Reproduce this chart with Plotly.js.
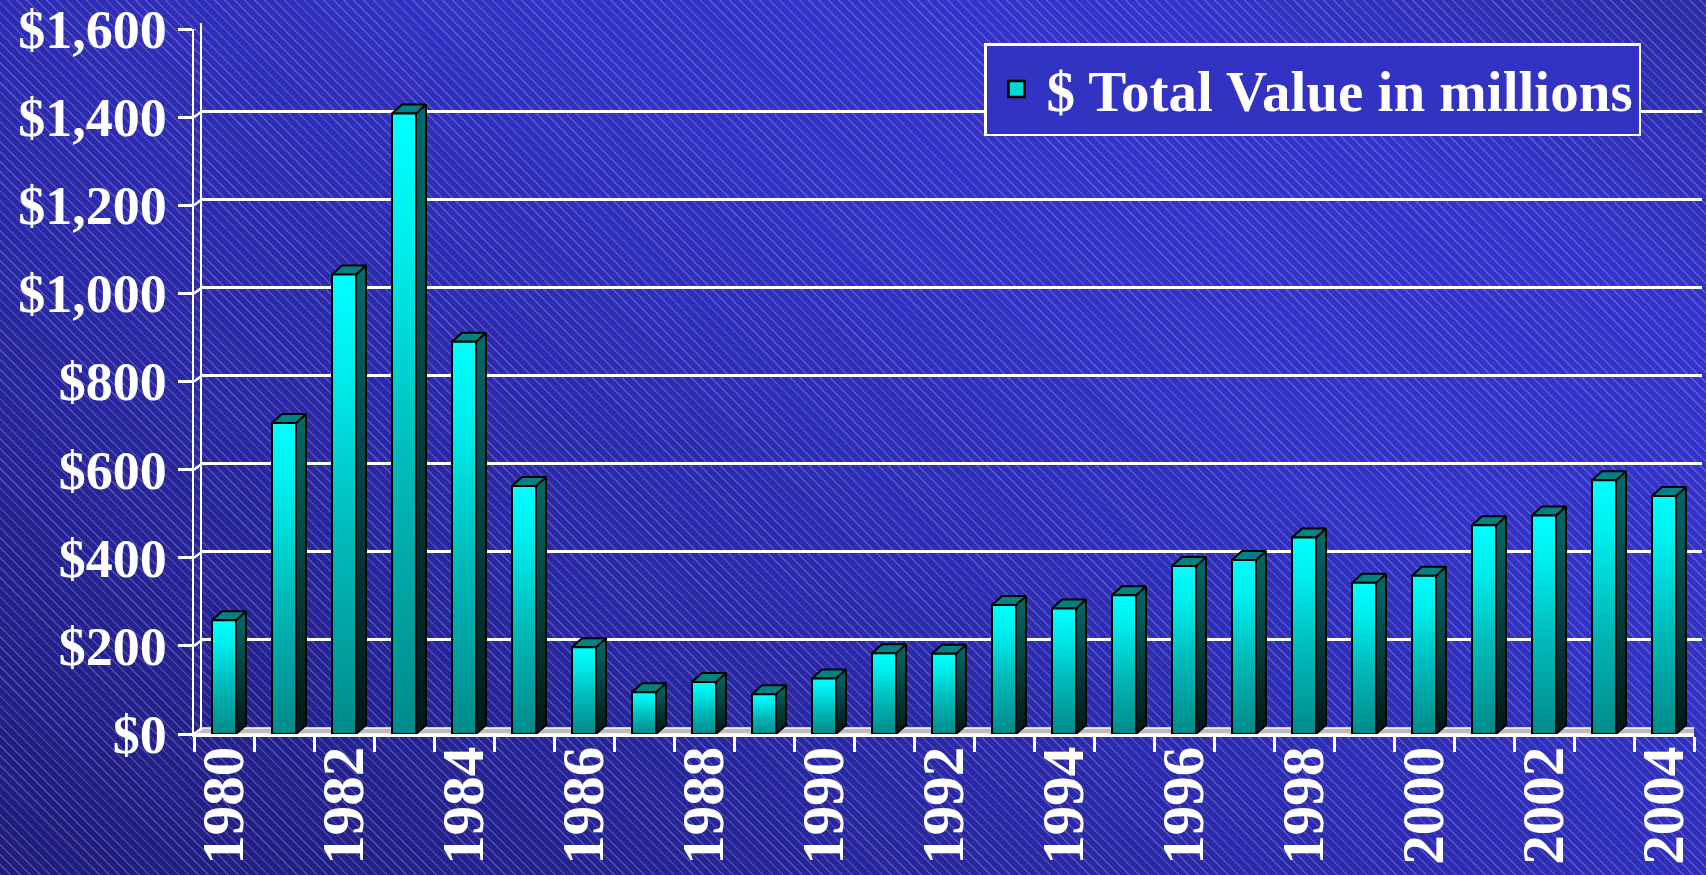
<!DOCTYPE html>
<html>
<head>
<meta charset="utf-8">
<script src="https://cdn.plot.ly/plotly-3.0.1.min.js"></script>
<style>
html,body{margin:0;padding:0;width:1706px;height:875px;overflow:hidden;}
body{
  background:
    repeating-linear-gradient(45deg, rgba(255,255,255,0.2) 0px, rgba(255,255,255,0.2) 1px, rgba(255,255,255,0) 1.6px, rgba(255,255,255,0) 7px),
    linear-gradient(30deg, #1f1c7a 0%, #2a28a6 35%, #3232c4 62%, #3434cc 82%, #2c2ca6 100%);
}
#chart{width:1706px;height:875px;}
</style>
</head>
<body>
<div id="chart"></div>
<script>
// ---- data ----
const years = [1980,1981,1982,1983,1984,1985,1986,1987,1988,1989,1990,1991,1992,
               1993,1994,1995,1996,1997,1998,1999,2000,2001,2002,2003,2004];
const totalValue = [258,706,1043,1408,890,563,197,95,118,90,126,183,182,
                    293,285,315,381,395,446,343,359,474,496,576,540];
const yTickVals = [0,200,400,600,800,1000,1200,1400,1600];
const yTickText = yTickVals.map(v => '$' + v.toLocaleString('en-US'));
const xLabelYears = [1980,1982,1984,1986,1988,1990,1992,1994,1996,1998,2000,2002,2004];
const seriesName = '$ Total Value in millions';

// ---- geometry (styling) ----
const W = 1706, H = 875;
const front = {x0:194, x1:1694, yBottom:734, yTop:29};
const wallDx = 8, wallDy = 6;           // back wall offset in px
const barDx = 10, barDy = 9;            // bar depth in px
const yMax = 1600;
const xMin = years[0]-0.5, xMax = years[years.length-1]+0.5;
const pxPerUnitY = (front.yBottom-front.yTop)/yMax;
const pxPerUnitX = (front.x1-front.x0)/(xMax-xMin);
const fdx = wallDx/pxPerUnitX, fdy = wallDy/pxPerUnitY;
const bdx = barDx/pxPerUnitX, bdy = barDy/pxPerUnitY;
const hw = 0.2;

const font = 'Liberation Serif, Times New Roman, serif';
const frontScale = [[0,'#008a8a'],[0.45,'#00bcbc'],[0.8,'#00eeee'],[1,'#00ffff']];
const sideScale = [[0,'#001818'],[1,'#006a6a']];

const traces = [];
// dummy trace so the back-wall subplot exists
traces.push({type:'scatter', mode:'lines', xaxis:'x', yaxis:'y', x:[null], y:[null],
  showlegend:false, hoverinfo:'skip'});
// floor
traces.push({type:'scatter', mode:'lines', xaxis:'x2', yaxis:'y2',
  x:[xMin, xMax, xMax+fdx, xMin+fdx, xMin], y:[0,0,fdy,fdy,0],
  fill:'toself', fillcolor:'#bdbdbd', line:{color:'#ffffff', width:1.5},
  showlegend:false, hoverinfo:'skip'});
// left wall connectors
const cx = [], cy = [];
yTickVals.forEach(v => { cx.push(xMin, xMin+fdx, null); cy.push(v, v+fdy, null); });
traces.push({type:'scatter', mode:'lines', xaxis:'x2', yaxis:'y2', x:cx, y:cy,
  line:{color:'#ffffff', width:2.5}, showlegend:false, hoverinfo:'skip'});

// bars
years.forEach((c,i) => {
  const v = totalValue[i];
  traces.push({type:'scatter', mode:'lines', xaxis:'x2', yaxis:'y2',
    x:[c+hw, c+hw+bdx, c+hw+bdx, c+hw, c+hw], y:[0, bdy, v+bdy, v, 0],
    fill:'toself', fillgradient:{type:'vertical', start:0, stop:v+bdy, colorscale:sideScale},
    line:{color:'#000000', width:2}, showlegend:false, hoverinfo:'skip'});
  traces.push({type:'scatter', mode:'lines', xaxis:'x2', yaxis:'y2',
    x:[c-hw, c+hw, c+hw+bdx, c-hw+bdx, c-hw], y:[v, v, v+bdy, v+bdy, v],
    fill:'toself', fillcolor:'#008282',
    line:{color:'#000000', width:2}, showlegend:false, hoverinfo:'skip'});
  traces.push({type:'scatter', mode:'lines', xaxis:'x2', yaxis:'y2',
    x:[c-hw, c+hw, c+hw, c-hw, c-hw], y:[0, 0, v, v, 0],
    fill:'toself', fillgradient:{type:'vertical', start:0, stop:v, colorscale:frontScale},
    line:{color:'#000000', width:2}, name:seriesName, showlegend:false, hoverinfo:'skip'});
});

// legend entry
traces.push({type:'scatter', mode:'markers', xaxis:'x3', yaxis:'y2',
  x:[null], y:[null], name:seriesName,
  marker:{symbol:'square', size:16, color:'#00d8d8', line:{color:'#000000', width:2.5}},
  showlegend:true, hoverinfo:'skip'});

const dom = (a,b) => [a/W, b/W];
const domY = (bottomPx, topPx) => [1-bottomPx/H, 1-topPx/H];

const layout = {
  width:W, height:H,
  margin:{l:0, r:0, t:0, b:0},
  paper_bgcolor:'rgba(0,0,0,0)', plot_bgcolor:'rgba(0,0,0,0)',
  showlegend:true, hovermode:false,
  // back wall
  xaxis:{domain:dom(front.x0+wallDx, front.x1+wallDx), range:[xMin,xMax], anchor:'y',
    showgrid:false, zeroline:false, showticklabels:false, ticks:'', showline:false},
  yaxis:{domain:domY(front.yBottom-wallDy, front.yTop-wallDy), range:[0,yMax], anchor:'x',
    tickvals:yTickVals, showgrid:true, gridcolor:'#ffffff', gridwidth:3,
    zeroline:false, showticklabels:false, ticks:'', showline:true, linecolor:'#ffffff', linewidth:2.5},
  // front axes
  xaxis2:{domain:dom(front.x0, front.x1), range:[xMin,xMax], anchor:'y2',
    tickvals:years.map(y=>y-0.5).concat([xMax]), ticks:'outside', ticklen:15, tickwidth:3, tickcolor:'#ffffff',
    showticklabels:false, showgrid:false, zeroline:false, showline:true, linecolor:'#ffffff', linewidth:2.5},
  yaxis2:{domain:domY(front.yBottom, front.yTop), range:[0,yMax], anchor:'x2',
    tickvals:yTickVals, ticktext:yTickText, ticks:'outside', ticklen:14, tickwidth:3, tickcolor:'#ffffff',
    ticklabelstandoff:0, ticklabeloverflow:'allow',
    tickfont:{family:font, size:54, color:'#ffffff', weight:'bold'},
    showgrid:false, zeroline:false, showline:true, linecolor:'#ffffff', linewidth:2.5},
  xaxis3:{overlaying:'x2', anchor:'y2', side:'bottom', range:[xMin,xMax],
    tickvals:xLabelYears, ticktext:xLabelYears.map(String), tickangle:-90,
    ticks:'', ticklabelstandoff:0, ticklabeloverflow:'allow',
    tickfont:{family:font, size:59, color:'#ffffff', weight:'bold'},
    showgrid:false, zeroline:false, showline:false},
  legend:{x:984/W, y:1-89.5/H, xanchor:'left', yanchor:'middle',
    bgcolor:'#3232c3', bordercolor:'#ffffff', borderwidth:2.5,
    font:{family:font, size:57, color:'#ffffff', weight:'bold'}, itemwidth:50}
};

Plotly.newPlot('chart', traces, layout, {displayModeBar:false, staticPlot:true});
</script>
</body>
</html>
